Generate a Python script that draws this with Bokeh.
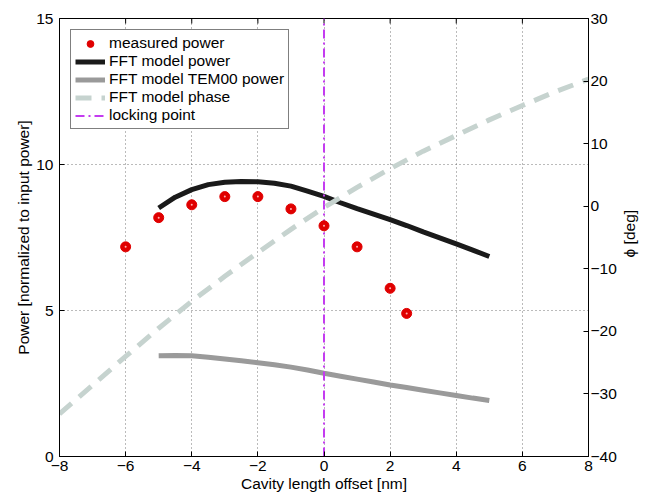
import math
from bokeh.plotting import figure
from bokeh.models import Range1d, LinearAxis, FixedTicker, Legend, LegendItem, Label
from bokeh.embed import file_html
from bokeh.resources import INLINE

# ---- data ----
x_meas = [-6, -5, -4, -3, -2, -1, 0, 1, 2, 2.5]
p_meas = [7.18, 8.18, 8.62, 8.90, 8.90, 8.48, 7.90, 7.18, 5.76, 4.90]

x_model = [-5, -4.5, -4, -3.5, -3, -2.5, -2, -1.5, -1, -0.5, 0, 0.5, 1, 1.5, 2, 2.5, 3, 3.5, 4, 4.5, 5]
p_model = [8.51, 8.88, 9.14, 9.31, 9.39, 9.42, 9.41, 9.36, 9.26, 9.09, 8.91, 8.69, 8.49, 8.30, 8.11, 7.91,
           7.69, 7.49, 7.28, 7.07, 6.85]
p_tem00 = [3.45, 3.46, 3.45, 3.40, 3.34, 3.28, 3.21, 3.14, 3.06, 2.96, 2.85, 2.75, 2.65, 2.55, 2.45, 2.36,
           2.27, 2.18, 2.09, 2.00, 1.92]

x_phase = [-8, -7, -6, -5, -4, -3, -2, -1, 0, 1, 2, 3, 4, 5, 6, 7, 8]
phase = [-33.2, -28.6, -24.0, -19.5, -15.2, -11.2, -7.4, -3.7, -0.2, 3.0, 6.0, 8.8, 11.3, 13.8, 16.1, 18.3, 20.3]

lock_x = 0

x_ticks = [-8, -6, -4, -2, 0, 2, 4, 6, 8]
y_ticks = [0, 5, 10, 15]
phi_ticks = [-40, -30, -20, -10, 0, 10, 20, 30]
top_tick_y = [15] * len(x_ticks)

FONT = "Liberation Sans"
TICK_FS = "15.5px"
LABEL_FS = "15.5px"

p = figure(width=648, height=498, output_backend="svg", toolbar_location=None,
           x_range=Range1d(-8, 8), y_range=Range1d(0, 15),
           min_border_left=59, min_border_right=60, min_border_top=18, min_border_bottom=42)
p.extra_y_ranges = {"phi": Range1d(-40, 30)}
p.outline_line_color = "black"
p.outline_line_width = 1
p.background_fill_color = "white"
p.border_fill_color = "white"


def style_axis(ax, ticks):
    ax.ticker = FixedTicker(ticks=ticks)
    ax.major_tick_in = 5
    ax.major_tick_out = 0
    ax.minor_tick_in = 0
    ax.minor_tick_out = 0
    ax.axis_line_color = "black"
    ax.major_tick_line_color = "black"
    ax.major_label_text_font = FONT
    ax.major_label_text_font_size = TICK_FS
    ax.major_label_text_color = "black"
    ax.axis_label_text_font = FONT
    ax.axis_label_text_font_size = LABEL_FS
    ax.axis_label_text_font_style = "normal"
    ax.axis_label_text_color = "black"


xa = p.xaxis[0]
style_axis(xa, x_ticks)
xa.axis_label = "Cavity length offset [nm]"
xa.major_label_standoff = 4
xa.axis_label_standoff = 1

ya = p.yaxis[0]
style_axis(ya, y_ticks)
ya.axis_label = "Power [normalized to input power]"
ya.major_label_standoff = 6
ya.axis_label_standoff = 1

ra = LinearAxis(y_range_name="phi")
style_axis(ra, phi_ticks)
ra.major_label_standoff = 2
p.add_layout(ra, "right")

# right axis title in its own side panel, reading bottom-to-top
phi_label = Label(x=10, y=225, x_units="screen", y_units="screen", text="ϕ  [deg]",
                  angle=math.pi / 2, text_align="center", text_baseline="middle",
                  text_font=FONT, text_font_size=LABEL_FS, text_color="black")
p.add_layout(phi_label, "right")

# grid
p.xgrid.ticker = FixedTicker(ticks=x_ticks)
p.ygrid.ticker = FixedTicker(ticks=y_ticks)
for g in (p.xgrid, p.ygrid):
    g.grid_line_color = "#555555"
    g.grid_line_dash = "1 3"
    g.grid_line_width = 1
    g.grid_line_alpha = 0.8

# inward ticks on the top edge of the box
p.scatter(x_ticks, top_tick_y, marker="dash", angle=math.pi / 2, size=10, line_color="black", line_width=1)

# glyphs
r_tem = p.line(x_model, p_tem00, line_color="#9a9a9a", line_width=5)
r_mod = p.line(x_model, p_model, line_color="#1a1a1a", line_width=5)
r_lock = p.line([lock_x, lock_x], [0, 15], line_color="#c43cf0", line_width=2, line_dash="9 4 2 4")
r_phase = p.line(x_phase, phase, y_range_name="phi", line_color="#c6d3cf", line_width=5, line_dash="16 10")
r_meas = p.scatter(x_meas, p_meas, size=10, fill_color="#e00000", line_color="#e00000", line_width=1)
r_dot = p.scatter(x_meas, p_meas, size=2, fill_color="#ffb0b0", line_color=None)

legend = Legend(items=[
    LegendItem(label="measured power", renderers=[r_meas]),
    LegendItem(label="FFT model power", renderers=[r_mod]),
    LegendItem(label="FFT model TEM00 power", renderers=[r_tem]),
    LegendItem(label="FFT model phase", renderers=[r_phase]),
    LegendItem(label="locking point", renderers=[r_lock]),
], location="top_left")
legend.margin = 11
legend.padding = 4
legend.spacing = 0
legend.label_height = 17
legend.glyph_height = 17
legend.glyph_width = 30
legend.label_standoff = 4
legend.label_text_font = FONT
legend.label_text_font_size = "15.5px"
legend.label_text_color = "black"
legend.border_line_color = "black"
legend.border_line_width = 1
legend.background_fill_alpha = 1
p.add_layout(legend, "center")

open("out.html", "w").write(file_html(p, INLINE))
